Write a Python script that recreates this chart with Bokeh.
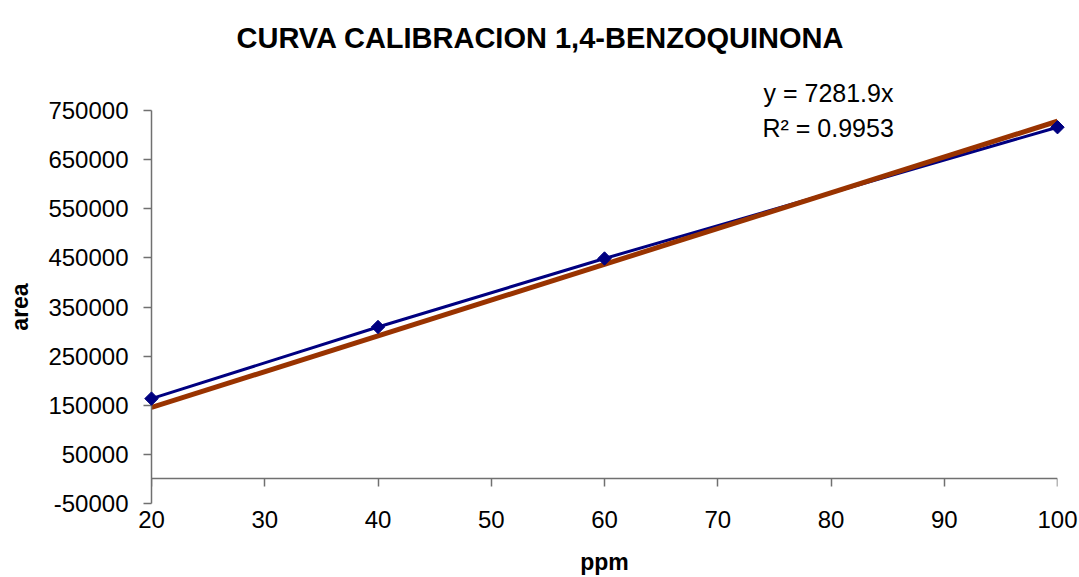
import math
from bokeh.plotting import figure
from bokeh.models import (Range1d, FixedTicker, LinearAxis, BasicTickFormatter)
from bokeh.core.properties import value
from bokeh.embed import file_html
from bokeh.resources import INLINE

# ---- data ----
ppm = [20, 40, 60, 100]
area = [163500, 309300, 448700, 716000]
slope = 7281.9
r2 = 0.9953
x_ticks = [20, 30, 40, 50, 60, 70, 80, 90, 100]
y_ticks = [-50000, 50000, 150000, 250000, 350000, 450000, 550000, 650000, 750000]
title_text = "CURVA CALIBRACION 1,4-BENZOQUINONA"
eq_text = "y = 7281.9x"
r2_text = "R\u00b2 = 0.9953"

trend_x = [ppm[0], ppm[-1]]
trend_y = [slope * v for v in trend_x]

FONT = "Liberation Sans"
AXIS_COL = "#707070"
X0, X1 = 20, 100
Y0, Y1 = -50000, 750000

p = figure(width=1079, height=577, output_backend="svg", toolbar_location=None,
           x_range=Range1d(X0, X1), y_range=Range1d(Y0, Y1),
           min_border_left=151, min_border_right=22, min_border_top=110,
           min_border_bottom=66)
p.outline_line_color = None
p.xgrid.visible = False
p.ygrid.visible = False
p.background_fill_color = "white"

# x axis labels at bottom of frame
xa = p.xaxis[0]
xa.ticker = FixedTicker(ticks=x_ticks)
xa.axis_line_color = None
xa.major_tick_line_color = None
xa.minor_tick_line_color = None
xa.major_tick_out = 0
xa.major_tick_in = 0
xa.major_label_standoff = 7
xa.major_label_text_font = FONT
xa.major_label_text_font_size = "24px"
xa.major_label_text_color = "black"
xa.axis_label = "ppm"
xa.axis_label_text_font = FONT
xa.axis_label_text_font_size = "23px"
xa.axis_label_text_font_style = "bold"
xa.axis_label_text_color = "black"
xa.axis_label_standoff = 18

# x axis line crossing at y = 0
xa0 = LinearAxis(fixed_location=0, ticker=FixedTicker(ticks=x_ticks))
xa0.axis_line_color = AXIS_COL
xa0.axis_line_width = 1.5
xa0.major_tick_line_color = AXIS_COL
xa0.major_tick_line_width = 1.5
xa0.major_tick_in = 8
xa0.major_tick_out = 0
xa0.minor_tick_line_color = None
xa0.major_label_overrides = {t: "" for t in x_ticks}
p.add_layout(xa0, "above")

# y axis
ya = p.yaxis[0]
ya.ticker = FixedTicker(ticks=y_ticks)
ya.formatter = BasicTickFormatter(use_scientific=False)
ya.major_label_overrides = {t: str(t) for t in y_ticks}
ya.axis_line_color = AXIS_COL
ya.axis_line_width = 1.5
ya.major_tick_line_color = AXIS_COL
ya.major_tick_line_width = 1.5
ya.major_tick_out = 8
ya.major_tick_in = 0
ya.minor_tick_line_color = None
ya.major_label_standoff = 15
ya.major_label_text_font = FONT
ya.major_label_text_font_size = "24px"
ya.major_label_text_color = "black"
ya.axis_label = "area"
ya.axis_label_text_font = FONT
ya.axis_label_text_font_size = "23px"
ya.axis_label_text_font_style = "bold"
ya.axis_label_text_color = "black"
ya.axis_label_standoff = 12

# data series
p.line(ppm, area, line_color="#000080", line_width=3)
p.line(trend_x, trend_y, line_color="#993300", line_width=5)
p.scatter(ppm, area, marker="square", size=9.5, angle=math.pi / 4,
          fill_color="#000080", line_color="#000080", level="overlay")

# title: anchored at the top-centre of the plot area, shifted in pixels
p.text(x=[(X0 + X1) / 2], y=[Y1], text=[title_text], x_offset=-64, y_offset=-73,
       text_font=value(FONT), text_font_size="29px", text_font_style="bold",
       text_align="center", text_baseline="alphabetic", text_color="black",
       level="overlay")

# trendline equation: anchored at the top-right corner of the plot area
p.text(x=[X1], y=[Y1], text=[eq_text], x_offset=-294, y_offset=-18,
       text_font=value(FONT), text_font_size="25px", text_align="left",
       text_baseline="alphabetic", text_color="black", level="overlay")
p.text(x=[X1], y=[Y1], text=[r2_text], x_offset=-295, y_offset=17,
       text_font=value(FONT), text_font_size="25px", text_align="left",
       text_baseline="alphabetic", text_color="black", level="overlay")

open("out.html", "w").write(file_html(p, INLINE))
